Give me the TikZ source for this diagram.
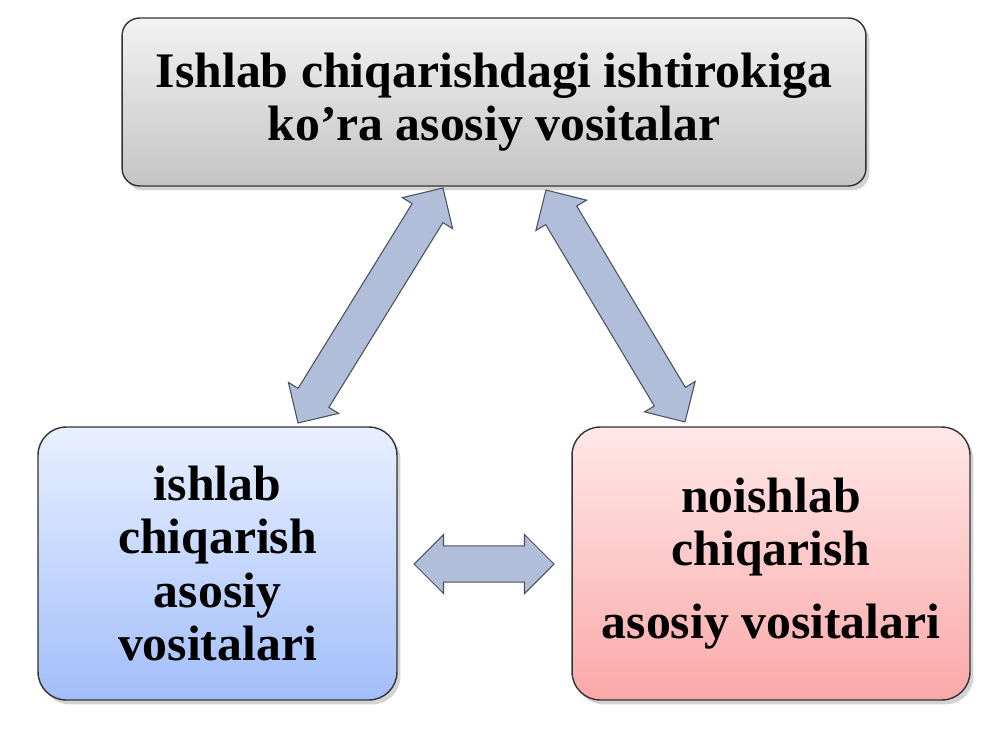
\documentclass[tikz,border=0pt]{standalone}
\usepackage{fontspec}
\setmainfont{Liberation Serif}
\usepackage{tikz}
\usetikzlibrary{positioning,shapes.arrows,calc,shadows}
\definecolor{boxGrayTop}{HTML}{F2F2F2}
\definecolor{boxGrayBot}{HTML}{C4C4C4}
\definecolor{boxBlueTop}{HTML}{E8F0FF}
\definecolor{boxBlueBot}{HTML}{A2BEFA}
\definecolor{boxRedTop}{HTML}{FFE8E8}
\definecolor{boxRedBot}{HTML}{FBA8A8}
\definecolor{linkFill}{HTML}{B0BEDA}
\definecolor{linkEdge}{HTML}{4A4F5A}

\tikzset{
  topic/.style={draw=black!80, line width=0.8pt, align=center,
    font=\fontsize{28.3}{30.5}\selectfont\bfseries,
    drop shadow={shadow xshift=2pt, shadow yshift=-2.5pt, opacity=0.35}},
  link/.style={double arrow, draw=linkEdge, fill=linkFill, line width=0.6pt,
    inner xsep=0pt, inner ysep=10pt, double arrow head extend=6.5pt}
}

% block arrow from #1 to #2
\newcommand{\linkarrow}[2]{%
  \path let \p1=($(#2)-(#1)$), \n1={atan2(\y1,\x1)}, \n2={veclen(\x1,\y1)} in
    node[link, rotate=\n1, minimum height=\n2] at ($(#1)!0.5!(#2)$) {};
}

\begin{document}
\begin{tikzpicture}[x=0.02cm, y=-0.02cm]
    \useasboundingbox (0,0) rectangle (1000,750);

    \node[topic, rounded corners=10pt, top color=boxGrayTop, bottom color=boxGrayBot,
          minimum width=14.88cm, minimum height=3.36cm] (kind) at (494,102)
        {Ishlab chiqarishdagi ishtirokiga\\ ko’ra asosiy vositalar};
    \node[topic, rounded corners=16pt, top color=boxBlueTop, bottom color=boxBlueBot,
          minimum width=7.18cm, minimum height=5.46cm] (prod) at (217.5,563.5)
        {ishlab\\ chiqarish\\ asosiy\\ vositalari};
    \node[topic, rounded corners=16pt, top color=boxRedTop, bottom color=boxRedBot,
          minimum width=7.96cm, minimum height=5.46cm] (nonprod) at (771,563.5)
        {noishlab\\ chiqarish\\[11pt] asosiy vositalari};

    % arrow ends
    \coordinate (kindL) at (443,188);
    \coordinate (kindR) at (546,190);
    \coordinate (prodT) at (298,423);
    \coordinate (nonprodT) at (685,422);
    \coordinate (prodR) at (414,564);
    \coordinate (nonprodL) at (554,564);

    \linkarrow{prodT}{kindL}
    \linkarrow{kindR}{nonprodT}
    \linkarrow{prodR}{nonprodL}
\end{tikzpicture}
\end{document}
